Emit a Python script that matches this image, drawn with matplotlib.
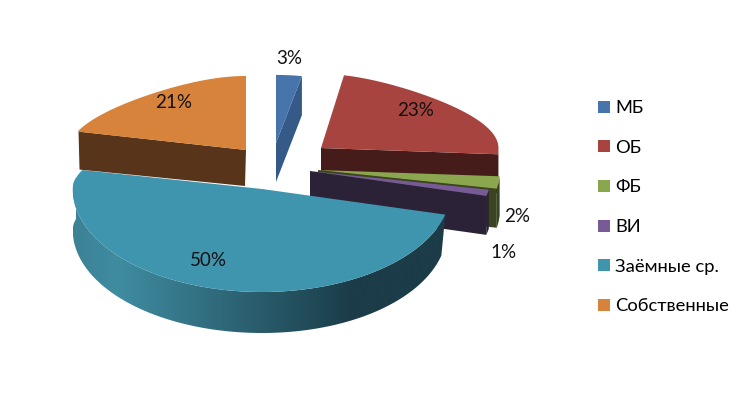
import numpy as np
import matplotlib
matplotlib.use('Agg')
import matplotlib.pyplot as plt
from matplotlib.patches import Patch, Polygon
from matplotlib.colors import LinearSegmentedColormap

plt.rcParams['font.family'] = ['Lato', 'Open Sans', 'DejaVu Sans']

labels = ['МБ', 'ОБ', 'ФБ', 'ВИ', 'Заёмные ср.', 'Собственные']
values = [3, 23, 2, 1, 50, 21]

colors = ['#4674AB', '#A8443F', '#8AA64E', '#785A96', '#4095AE', '#D7833B']
side_colors = ['#355A88', '#451C1A', '#3A4420', '#2C2238', '#1B3C48', '#57341A']

# where each slice tip ends up after exploding, px
tip_x = [276, 321, 318, 310, 262, 246]
tip_y = [143, 148, 170, 171, 189, 150]
radius_x = [1.1, 0.975, 1, 1, 1.04, 0.975]
radius_y = [0.92, 1, 1, 1, 1.03, 1]
label_x = [289, 416, 517, 503, 208, 174]
label_y = [58, 111, 216, 252, 260, 102]

a = 182
b_back = 74
b_front = 100
height = 39


def project(i, ang):
    # fake perspective: back of the disc is squeezed
    c = np.cos(ang)
    s = 1 - 0.32 * np.where(c > 0, c, 0) ** 2
    b = np.where(c > 0, b_back, b_front)
    return tip_x[i] + radius_x[i] * a * s * np.sin(ang), tip_y[i] - radius_y[i] * b * c


fig = plt.figure(figsize=(7.47, 4.18), dpi=100)
ax = fig.add_axes([0, 0, 1, 1])

edges = np.radians(np.concatenate([[0], np.cumsum(values)]) * 3.6)
wall_cmap = LinearSegmentedColormap.from_list(
    'wall', [(0, '#3C8196'), (0.12, '#3F8CA1'), (0.75, '#1B3C48'), (1, '#1B3C48')])

for i in [0, 1, 2, 3, 5, 4]:
    t0, t1 = edges[i], edges[i + 1]
    tx, ty = tip_x[i], tip_y[i]
    ang = np.linspace(t0, t1, 120)
    x, y = project(i, ang)

    # radial face on the clockwise end, visible for right hand slices
    if t1 < np.pi:
        ex, ey = project(i, t1)
        ax.fill([tx, ex, ex, tx], [ty, ey, ey + height, ty + height],
                color=side_colors[i], lw=0, zorder=i + 1)
    # radial face on the start edge, visible for the left slice
    if t0 > np.pi and t1 > 1.9 * np.pi:
        ex, ey = project(i, t0)
        ax.fill([tx, ex + 1, ex + 2, tx - 1], [ty, ey, ey + height - 1, ty + height - 3],
                color=side_colors[i], lw=0, zorder=i + 1)

    # outer wall
    vis = (ang > np.pi / 2) & (ang < 1.55 * np.pi)
    if vis.sum() > 1:
        vx, vy = project(i, ang[vis])
        if i == 4:
            # bottom rim pulled in on the right side only
            mid = vx.mean()
            bx = vx - 4 * np.clip((vx - mid) / (vx.max() - mid), 0, 1) ** 2
            poly = np.c_[np.r_[vx, bx[::-1]], np.r_[vy, vy[::-1] + height + 2]]
            patch = Polygon(poly, closed=True, fc='none', ec='none')
            ax.add_patch(patch)
            grad = np.linspace(0, 1, 400).reshape(1, -1)
            im = ax.imshow(grad, cmap=wall_cmap, aspect='auto', zorder=i + 1,
                           extent=[vx.min(), vx.max(), vy.max() + height + 3, vy.min()])
            im.set_clip_path(patch)
        else:
            ax.fill(np.r_[vx, vx[::-1]], np.r_[vy, vy[::-1] + height],
                    color=side_colors[i], lw=0, zorder=i + 1)

    ax.fill(np.r_[tx, x], np.r_[ty, y], color=colors[i], lw=0, zorder=i + 1.5)

ax.set_xlim(0, 747)
ax.set_ylim(418, 0)
ax.axis('off')

for i, v in enumerate(values):
    ax.text(label_x[i], label_y[i], f'{v}%', fontsize=13.5, color='#111111',
            ha='center', va='center', zorder=20)

handles = [Patch(facecolor=c, edgecolor='none', label=l) for c, l in zip(colors, labels)]
ax.legend(handles=handles, loc='upper left', bbox_to_anchor=(598 / 747, 1 - 100 / 418),
          frameon=False, fontsize=13.2, handlelength=0.63, handleheight=0.63,
          handletextpad=0.3, labelspacing=1.29, borderpad=0, borderaxespad=0)

fig.savefig('out.png', dpi=100)
